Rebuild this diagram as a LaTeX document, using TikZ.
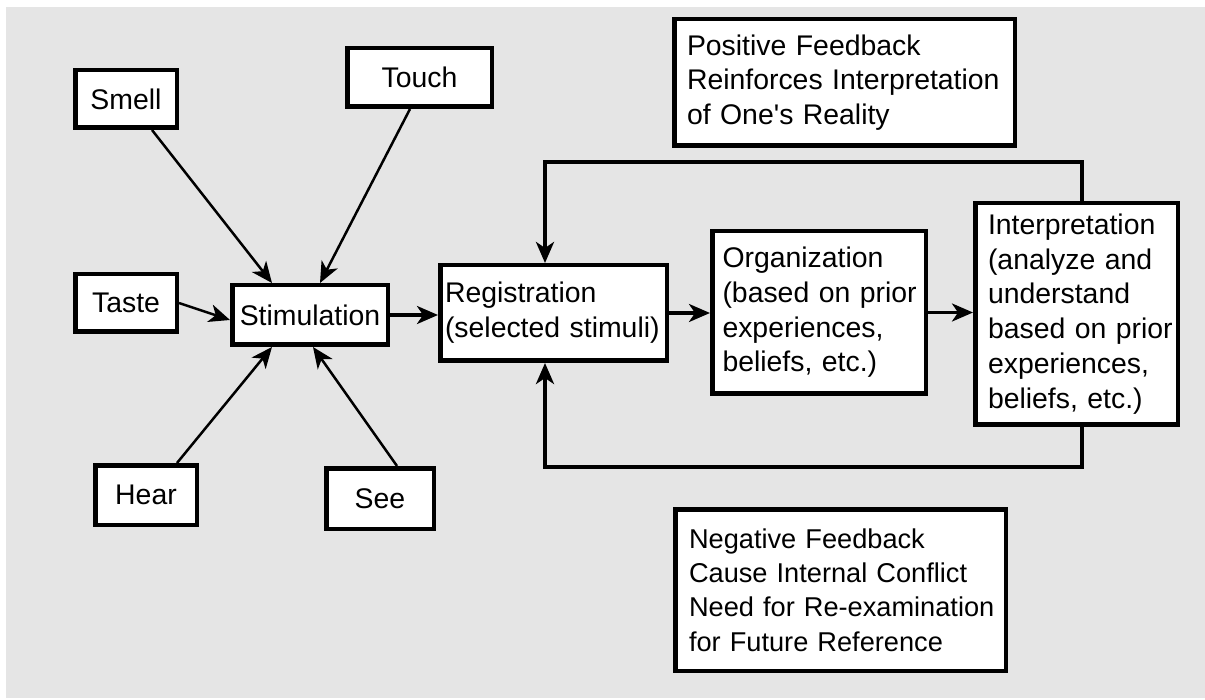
\documentclass[tikz,border=0pt]{standalone}
\usepackage{fontspec}
\setmainfont{Liberation Sans}
\usetikzlibrary{arrows.meta}
\definecolor{bggray}{RGB}{229,229,229}
\newcommand{\tline}[1]{\mbox{#1}}
\begin{document}
\begin{tikzpicture}[x=1pt,y=-1pt,
  box/.style={draw=black, line width=4.5pt, fill=white, inner sep=0pt,
    font=\fontsize{28.4}{34.7}\selectfont},
  txtbox/.style={box, align=left},
  arrhead/.style={-{Stealth[length=21pt,width=18pt,inset=6pt]}},
  sense/.style={arrhead, line width=2.5pt},
  flow/.style={arrhead, line width=3.2pt},
  fb/.style={line width=4pt},
]
\hbadness=10000 \hfuzz=100pt
\useasboundingbox (0,0) rectangle (1205,700);
\fill[bggray] (6,7) rectangle (1205,698);

% sense boxes
\node[box, minimum width=101.5pt, minimum height=57.5pt] (smell) at (126,99) {Smell};
\node[box, minimum width=144.5pt, minimum height=58.5pt] (touch) at (419.5,77.5) {Touch};
\node[box, minimum width=101.5pt, minimum height=57.5pt] (taste) at (126,303) {Taste};
\node[box, minimum width=101.5pt, minimum height=59.5pt] (hear) at (146,495) {Hear};
\node[box, minimum width=107.5pt, minimum height=60.5pt] (see) at (380,498.5) {See};
\node[box, minimum width=155.5pt, minimum height=59.5pt] (stim) at (310,315) {Stimulation};

% process boxes
\node[txtbox, minimum width=226.5pt, minimum height=95.5pt, text width=217pt] (reg) at (553.5,313)
  {\tline{Registration}\\\tline{(selected stimuli)}};
\node[txtbox, minimum width=213.5pt, minimum height=162.5pt, text width=193pt] (org) at (819,312.5)
  {\tline{Organization}\\\tline{(based on prior}\\\tline{experiences,}\\\tline{beliefs, etc.)}};
\node[txtbox, minimum width=202.5pt, minimum height=221.5pt, text width=177pt] (interp) at (1076.5,314)
  {\tline{Interpretation}\\\tline{(analyze and}\\\tline{understand}\\\tline{based on prior}\\\tline{experiences,}\\\tline{beliefs, etc.)}};

% feedback notes
\node[txtbox, minimum width=340.5pt, minimum height=126.5pt, text width=315pt] (pos) at (844.5,82.5)
  {\tline{Positive Feedback}\\\tline{Reinforces Interpretation}\\\tline{of One\textquotesingle s Reality}};
\node[txtbox, minimum width=330.5pt, minimum height=161.5pt, text width=303pt,
  font=\fontsize{27.2}{34.4}\selectfont] (neg) at (840.5,590)
  {\tline{Negative Feedback}\\\tline{Cause Internal Conflict}\\\tline{Need for Re-examination}\\\tline{for Future Reference}};

% sense arrows
\draw[sense] ([xshift=-9.5pt]touch.south) -- ([xshift=10pt]stim.north);
\draw[sense] ([xshift=26pt]smell.south) -- ([xshift=-38pt]stim.north);
\draw[sense] (taste.east) -- ([yshift=-5pt]stim.west);
\draw[sense] ([xshift=31pt]hear.north) -- ([xshift=-38pt]stim.south);
\draw[sense] ([xshift=17pt]see.north) -- ([xshift=3pt]stim.south);

% main flow
\draw[flow] (stim.east) -- (stim.east -| reg.west);
\draw[flow] (reg.east) -- (reg.east -| org.west);
\draw[flow] (org.east) -- (org.east -| interp.west);

% feedback loops
\draw[fb, arrhead] ([xshift=5.5pt]interp.north) -- ++(0,-39) -| ([xshift=-8.5pt]reg.north);
\draw[fb, arrhead] ([xshift=5.5pt]interp.south) -- ++(0,40) -| ([xshift=-8.5pt]reg.south);
\end{tikzpicture}
\end{document}
